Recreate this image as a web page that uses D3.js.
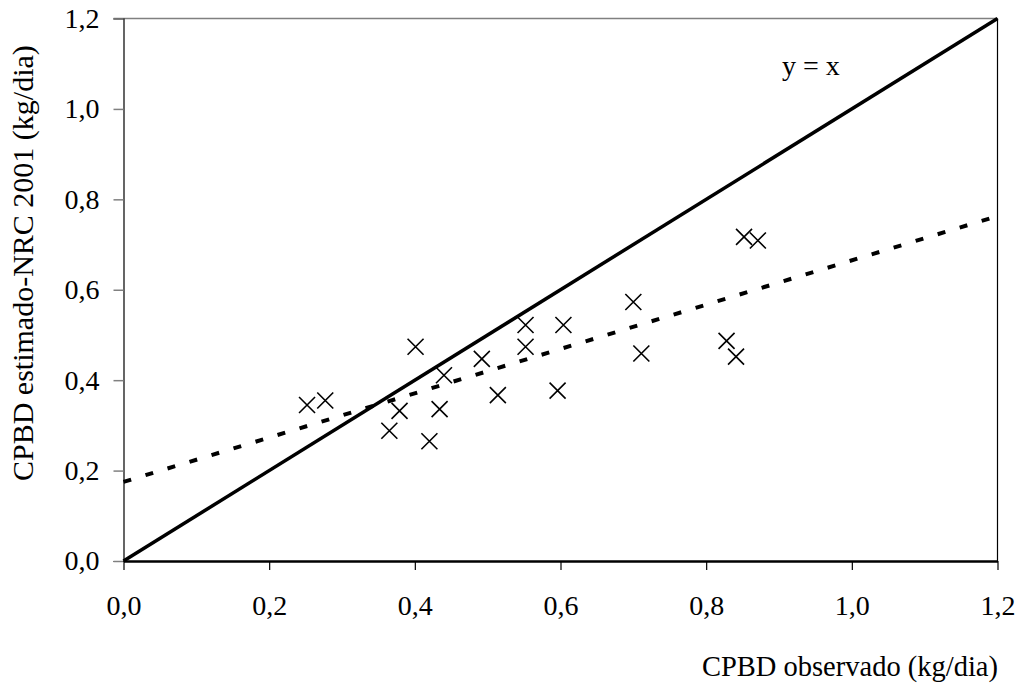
<!DOCTYPE html>
<html>
<head>
<meta charset="utf-8">
<script src="https://cdn.jsdelivr.net/npm/d3@7"></script>
<style>
  html, body { margin: 0; padding: 0; background: #fff; }
  svg { display: block; }
  text { font-family: "Liberation Serif", "Times New Roman", serif; fill: #000; }
</style>
</head>
<body>
<svg id="chart" width="1022" height="693"></svg>
<script>
// Observed CPBD (kg/dia)
const observed = [0.252, 0.277, 0.401, 0.440, 0.379, 0.365, 0.434, 0.420, 0.492, 0.514,
                  0.552, 0.552, 0.604, 0.596, 0.700, 0.711, 0.852, 0.871, 0.828, 0.841];
// Estimated CPBD NRC 2001 (kg/dia)
const estimated = [0.345, 0.355, 0.474, 0.411, 0.332, 0.288, 0.336, 0.265, 0.447, 0.367,
                   0.522, 0.474, 0.522, 0.377, 0.573, 0.459, 0.717, 0.709, 0.487, 0.452];
// Regression line (dashed): y = intercept + slope * x
const regIntercept = 0.175;
const regSlope = 0.49;
const lineDomain = [0, 1.2];
const xTicks = [0, 0.2, 0.4, 0.6, 0.8, 1.0, 1.2];
const yTicks = [0, 0.2, 0.4, 0.6, 0.8, 1.0, 1.2];
const xTitle = "CPBD observado (kg/dia)";
const yTitle = "CPBD estimado-NRC 2001 (kg/dia)";
const identityLabel = "y = x";

const svg = d3.select("#chart");
const mLeft = 123.5, mRight = 997.5, mTop = 18.5, mBottom = 561;

const x = d3.scaleLinear().domain([0, 1.2]).range([mLeft, mRight]);
const y = d3.scaleLinear().domain([0, 1.2]).range([mBottom, mTop]);
const fmt = d => d3.format(".1f")(d).replace(".", ",");

// top border (grey)
svg.append("line").attr("x1", mLeft - 10).attr("x2", mRight).attr("y1", mTop).attr("y2", mTop)
  .attr("stroke", "#808080").attr("stroke-width", 1.5);
// right border
svg.append("line").attr("x1", mRight).attr("x2", mRight).attr("y1", mTop).attr("y2", mBottom)
  .attr("stroke", "#000").attr("stroke-width", 1.2);

// y axis
const yAxis = svg.append("g").attr("transform", `translate(${mLeft},0)`)
  .call(d3.axisLeft(y).tickValues(yTicks).tickFormat(fmt).tickSize(10).tickPadding(14));
yAxis.select(".domain").attr("stroke", "#000").attr("stroke-width", 1.2);
yAxis.selectAll(".tick line").attr("stroke", "#808080").attr("stroke-width", 1.5);
yAxis.selectAll(".tick text").style("font-size", "28px").attr("font-family", null);

// x axis
const xAxis = svg.append("g").attr("transform", `translate(0,${mBottom})`)
  .call(d3.axisBottom(x).tickValues(xTicks).tickFormat(fmt).tickSize(9).tickSizeOuter(0).tickPadding(25));
xAxis.select(".domain").attr("stroke", "#000").attr("stroke-width", 2.5);
xAxis.selectAll(".tick line").attr("stroke", "#000").attr("stroke-width", 1.2);
xAxis.selectAll(".tick text").style("font-size", "28px").attr("font-family", null);

// identity line y = x
svg.append("path")
  .datum(lineDomain.map(v => [v, v]))
  .attr("d", d3.line().x(d => x(d[0])).y(d => y(d[1])))
  .attr("stroke", "#000").attr("stroke-width", 3.5).attr("fill", "none");

// regression dashed line
svg.append("path")
  .datum(lineDomain.map(v => [v, regIntercept + regSlope * v]))
  .attr("d", d3.line().x(d => x(d[0])).y(d => y(d[1])))
  .attr("stroke", "#000").attr("stroke-width", 4).attr("stroke-dasharray", "8,15").attr("fill", "none");

// X markers
const pts = observed.map((v, i) => ({ x: v, y: estimated[i] }));
const s = 8;
svg.append("g").selectAll("path").data(pts).join("path")
  .attr("d", d => {
    const cx = x(d.x), cy = y(d.y);
    return `M${cx - s},${cy - s}L${cx + s},${cy + s}M${cx - s},${cy + s}L${cx + s},${cy - s}`;
  })
  .attr("stroke", "#000").attr("stroke-width", 1.6).attr("fill", "none");

// labels
svg.append("text").attr("x", 782).attr("y", 75).style("font-size", "28px").text(identityLabel);
svg.append("text").attr("x", 998).attr("y", 676).attr("text-anchor", "end")
  .style("font-size", "28.5px").text(xTitle);
svg.append("text").attr("transform", "translate(33,481) rotate(-90)")
  .style("font-size", "30px").text(yTitle);
</script>
</body>
</html>
